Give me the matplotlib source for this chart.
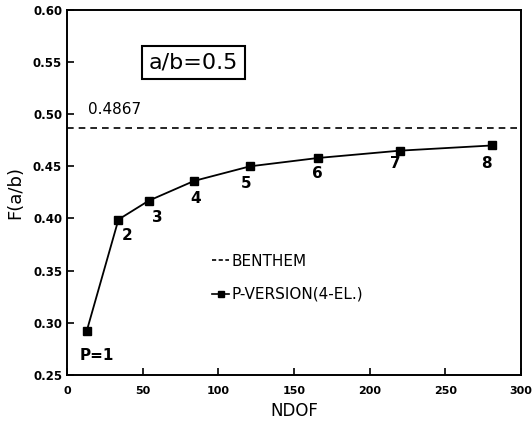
import matplotlib
matplotlib.use("Agg")
import matplotlib.pyplot as plt
from matplotlib.lines import Line2D

# p-version (4 elements) convergence, a/b = 0.5
ndof = [13, 34, 54, 84, 121, 166, 220, 281]
f_ab = [0.292, 0.399, 0.417, 0.436, 0.450, 0.458, 0.465, 0.470]
p_labels = ["P=1", "2", "3", "4", "5", "6", "7", "8"]
benthem = 0.4867

x_ticks = [0, 50, 100, 150, 200, 250, 300]
y_ticks = [0.25, 0.30, 0.35, 0.40, 0.45, 0.50, 0.55, 0.60]

# label offsets in pixels from each marker
offsets = [(10, -24), (9, -16), (9, -17), (2, -18), (-4, -17), (-1, -16), (-5, -13), (-6, -18)]

fig = plt.figure(figsize=(5.32, 4.28), dpi=100)
ax = fig.add_axes([0.126, 0.124, 0.853, 0.853])

ax.axhline(benthem, color="black", ls=(0, (4, 3)), lw=1.2)
ax.plot(ndof, f_ab, color="black", lw=1.3, marker="s", ms=6)

for x, y, lab, off in zip(ndof, f_ab, p_labels, offsets):
    ax.annotate(lab, (x, y), xytext=off, textcoords="offset pixels",
                ha="center", va="center", fontsize=11, fontweight="semibold")

ax.text(14, benthem + 0.018, "%.4f" % benthem, fontsize=11, ha="left", va="center")
ax.text(0.279, 0.855, "a/b=0.5", transform=ax.transAxes, fontsize=16,
        ha="center", va="center",
        bbox=dict(boxstyle="square,pad=0.3", fc="white", ec="black", lw=1.5))

handles = [Line2D([], [], color="black", ls=(0, (2.5, 1.5)), lw=1.2),
           Line2D([], [], color="black", lw=1.2, marker="s", ms=5)]
ax.legend(handles, ["BENTHEM", "P-VERSION(4-EL.)"], loc="upper left",
          bbox_to_anchor=(0.29, 0.37), frameon=False, fontsize=11,
          handlelength=1.1, handletextpad=0.15, labelspacing=1.2)

ax.set_xlim(0, 300)
ax.set_ylim(0.25, 0.60)
ax.set_xticks(x_ticks)
ax.set_yticks(y_ticks)
ax.set_yticklabels(["%.2f" % v for v in y_ticks])
ax.tick_params(direction="in", length=5, width=1.2, labelsize=8.5)
ax.tick_params(axis="x", pad=8, labelsize=8)
for lab in ax.get_xticklabels() + ax.get_yticklabels():
    lab.set_fontweight("bold")
for s in ax.spines.values():
    s.set_linewidth(1.4)

ax.set_xlabel("NDOF", fontsize=12, labelpad=4)
ax.set_ylabel("F(a/b)", fontsize=13, labelpad=6)

fig.savefig("out.png", dpi=100)
